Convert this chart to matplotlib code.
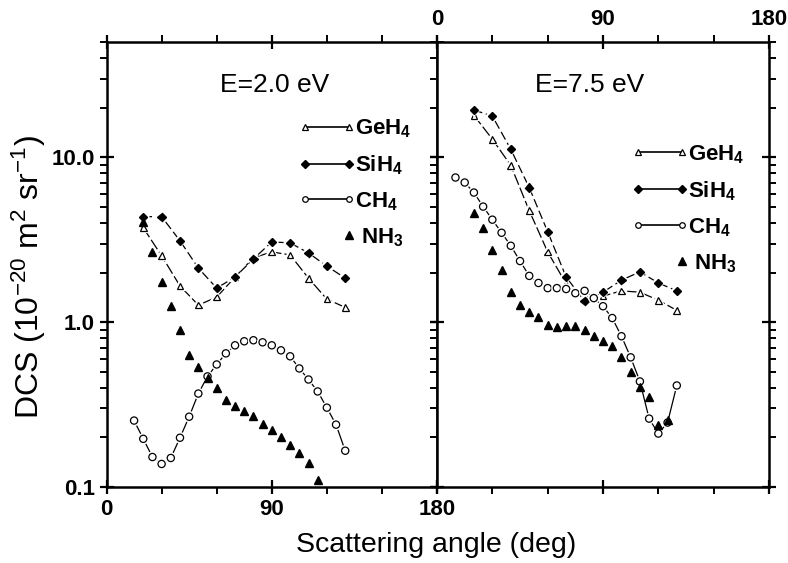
import matplotlib.pyplot as plt
import matplotlib.patheffects as pe
from matplotlib.lines import Line2D
from matplotlib.legend_handler import HandlerLine2D
from matplotlib.ticker import MultipleLocator, FixedLocator, FuncFormatter, NullFormatter, LogLocator

plt.rcParams['font.family'] = ['Liberation Sans', 'DejaVu Sans']
plt.rcParams['mathtext.default'] = 'regular'

# E = 2.0 eV
ang_ge_2 = [20, 30, 40, 50, 60, 70, 80, 90, 100, 110, 120, 130]
ge_2 = [3.74, 2.53, 1.66, 1.27, 1.42, 1.88, 2.46, 2.67, 2.56, 1.85, 1.38, 1.23]
ang_si_2 = [20, 30, 40, 50, 60, 70, 80, 90, 100, 110, 120, 130]
si_2 = [4.37, 4.37, 3.12, 2.13, 1.61, 1.88, 2.42, 3.07, 3.03, 2.63, 2.19, 1.85]
ang_ch_2 = [15, 20, 25, 30, 35, 40, 45, 50, 55, 60, 65, 70, 75, 80, 85, 90,
            95, 100, 105, 110, 115, 120, 125, 130]
ch_2 = [0.253, 0.196, 0.152, 0.138, 0.150, 0.199, 0.267, 0.369, 0.469, 0.554,
        0.647, 0.724, 0.766, 0.777, 0.755, 0.724, 0.675, 0.621, 0.524, 0.449,
        0.380, 0.303, 0.239, 0.166]
ang_nh_2 = [20, 25, 30, 35, 40, 45, 50, 55, 60, 65, 70, 75, 80, 85, 90, 95,
            100, 105, 110, 115]
nh_2 = [4.07, 2.67, 1.75, 1.25, 0.894, 0.629, 0.532, 0.456, 0.396, 0.339,
        0.312, 0.291, 0.271, 0.242, 0.223, 0.202, 0.180, 0.161, 0.140, 0.110]

# E = 7.5 eV
ang_ge_7 = [20, 30, 40, 50, 60, 70, 80, 90, 100, 110, 120, 130]
ge_7 = [18.0, 12.9, 8.94, 4.75, 2.67, 1.71, 1.44, 1.44, 1.55, 1.52, 1.36, 1.18]
ang_si_7 = [20, 30, 40, 50, 60, 70, 80, 90, 100, 110, 120, 130]
si_7 = [19.4, 17.8, 11.2, 6.56, 3.54, 1.88, 1.34, 1.52, 1.80, 2.02, 1.73, 1.55]
ang_ch_7 = [10, 15, 20, 25, 30, 35, 40, 45, 50, 55, 60, 65, 70, 75, 80, 85,
            90, 95, 100, 105, 110, 115, 120, 125, 130]
ch_7 = [7.55, 7.04, 6.12, 5.03, 4.19, 3.49, 2.91, 2.35, 1.91, 1.73, 1.61, 1.61,
        1.59, 1.50, 1.55, 1.40, 1.25, 1.06, 0.822, 0.612, 0.437, 0.260, 0.211,
        0.246, 0.413]
ang_nh_7 = [20, 25, 30, 35, 40, 45, 50, 55, 60, 65, 70, 75, 80, 85, 90, 95,
            100, 105, 110, 115, 120, 125]
nh_7 = [4.62, 3.74, 2.75, 2.07, 1.52, 1.27, 1.15, 1.07, 0.959, 0.932, 0.945,
        0.945, 0.894, 0.822, 0.766, 0.714, 0.612, 0.496, 0.407, 0.354, 0.239,
        0.256]

halo = [pe.withStroke(linewidth=3, foreground='white')]


class RightMarker(HandlerLine2D):
    # one marker at the right end of the legend handle
    def create_artists(self, *args, **kwargs):
        arts = super().create_artists(*args, **kwargs)
        for a in arts:
            a.set_markevery([1])
        return arts


fig = plt.figure(figsize=(7.88, 5.63), dpi=100)
ax1 = fig.add_axes([0.1352, 0.135, 0.4194, 0.790])
ax2 = fig.add_axes([0.5546, 0.135, 0.4213, 0.790], sharey=ax1)


def draw_panel(ax, ang_ge, ge, ang_si, si, ang_ch, ch, ang_nh, nh):
    ax.plot(ang_ge, ge, color='k', lw=0.9, ls=(0, (9, 2.5)), marker='^',
            mfc='white', mec='k', mew=0.9, ms=4.8, path_effects=halo)
    ax.plot(ang_si, si, color='k', lw=0.9, ls=(0, (7, 3)), marker='D',
            mfc='k', mec='k', ms=4.2, path_effects=halo)
    ax.plot(ang_ch, ch, color='k', lw=0.9, ls='-', marker='o',
            mfc='white', mec='k', mew=0.9, ms=5.2, path_effects=halo)
    ax.plot(ang_nh, nh, color='k', ls='none', marker='^', mfc='k',
            mec='k', ms=5.5)

    handles = [
        Line2D([], [], color='k', lw=1.2, marker='^', mfc='white', mec='k',
               mew=0.9, ms=4),
        Line2D([], [], color='k', lw=1.2, marker='D', mfc='k', mec='k', ms=4),
        Line2D([], [], color='k', lw=1.2, marker='o', mfc='white', mec='k',
               mew=0.9, ms=4),
        Line2D([], [], color='k', ls='none', marker='^', mfc='k', mec='k',
               ms=5.5),
    ]
    labels = ['GeH$_4$', 'SiH$_4$', 'CH$_4$', ' NH$_3$']
    return handles, labels


def add_legend(ax, handles, labels, anchor):
    ax.legend(handles, labels, loc='upper left', bbox_to_anchor=anchor,
              frameon=False, numpoints=2, handlelength=2.55, handletextpad=0.0,
              labelspacing=0.6, borderpad=0, borderaxespad=0,
              handler_map={handles[3]: RightMarker()},
              prop={'size': 16, 'weight': 'bold'})


h, l = draw_panel(ax1, ang_ge_2, ge_2, ang_si_2, si_2, ang_ch_2, ch_2, ang_nh_2, nh_2)
add_legend(ax1, h, l, (0.581, 0.831))
h, l = draw_panel(ax2, ang_ge_7, ge_7, ang_si_7, si_7, ang_ch_7, ch_7, ang_nh_7, nh_7)
add_legend(ax2, h, l, (0.586, 0.773))

ax1.text(0.51, 0.903, 'E=2.0 eV', transform=ax1.transAxes, ha='center',
         va='center', fontsize=19)
ax2.text(0.461, 0.903, 'E=7.5 eV', transform=ax2.transAxes, ha='center',
         va='center', fontsize=19)

ax1.set_yscale('log')
ax1.set_ylim(0.1, 50)
ax1.yaxis.set_major_locator(FixedLocator([0.1, 1.0, 10.0]))
ax1.yaxis.set_minor_locator(LogLocator(base=10, subs=range(2, 10)))
ax1.yaxis.set_major_formatter(FuncFormatter(lambda v, p: '%.1f' % v))
ax1.yaxis.set_minor_formatter(NullFormatter())

for ax in (ax1, ax2):
    ax.set_xlim(0, 180)
    ax.xaxis.set_major_locator(MultipleLocator(90))
    ax.xaxis.set_minor_locator(MultipleLocator(30))
    for s in ax.spines.values():
        s.set_linewidth(1.8)
    ax.tick_params(which='major', direction='inout', length=10, width=1.6,
                   top=True, bottom=True, left=True, right=True,
                   labelsize=16)
    ax.tick_params(which='minor', direction='out', length=5, width=1.4,
                   top=True, bottom=True, left=True, right=True)

ax1.tick_params(labelbottom=True, labeltop=False, labelleft=True, labelright=False)
ax2.tick_params(labelbottom=False, labeltop=True, labelleft=False, labelright=False)
for ax in (ax1, ax2):
    for t in ax.get_xticklabels() + ax.get_yticklabels():
        t.set_fontweight('bold')

fig.text(0.036, 0.508, 'DCS (10$^{-20}$ m$^2$ sr$^{-1}$)', rotation=90,
         ha='center', va='center', fontsize=23)
fig.text(0.553, 0.032, 'Scattering angle (deg)', ha='center', va='center',
         fontsize=20.5)

fig.savefig('out.png', dpi=100)
